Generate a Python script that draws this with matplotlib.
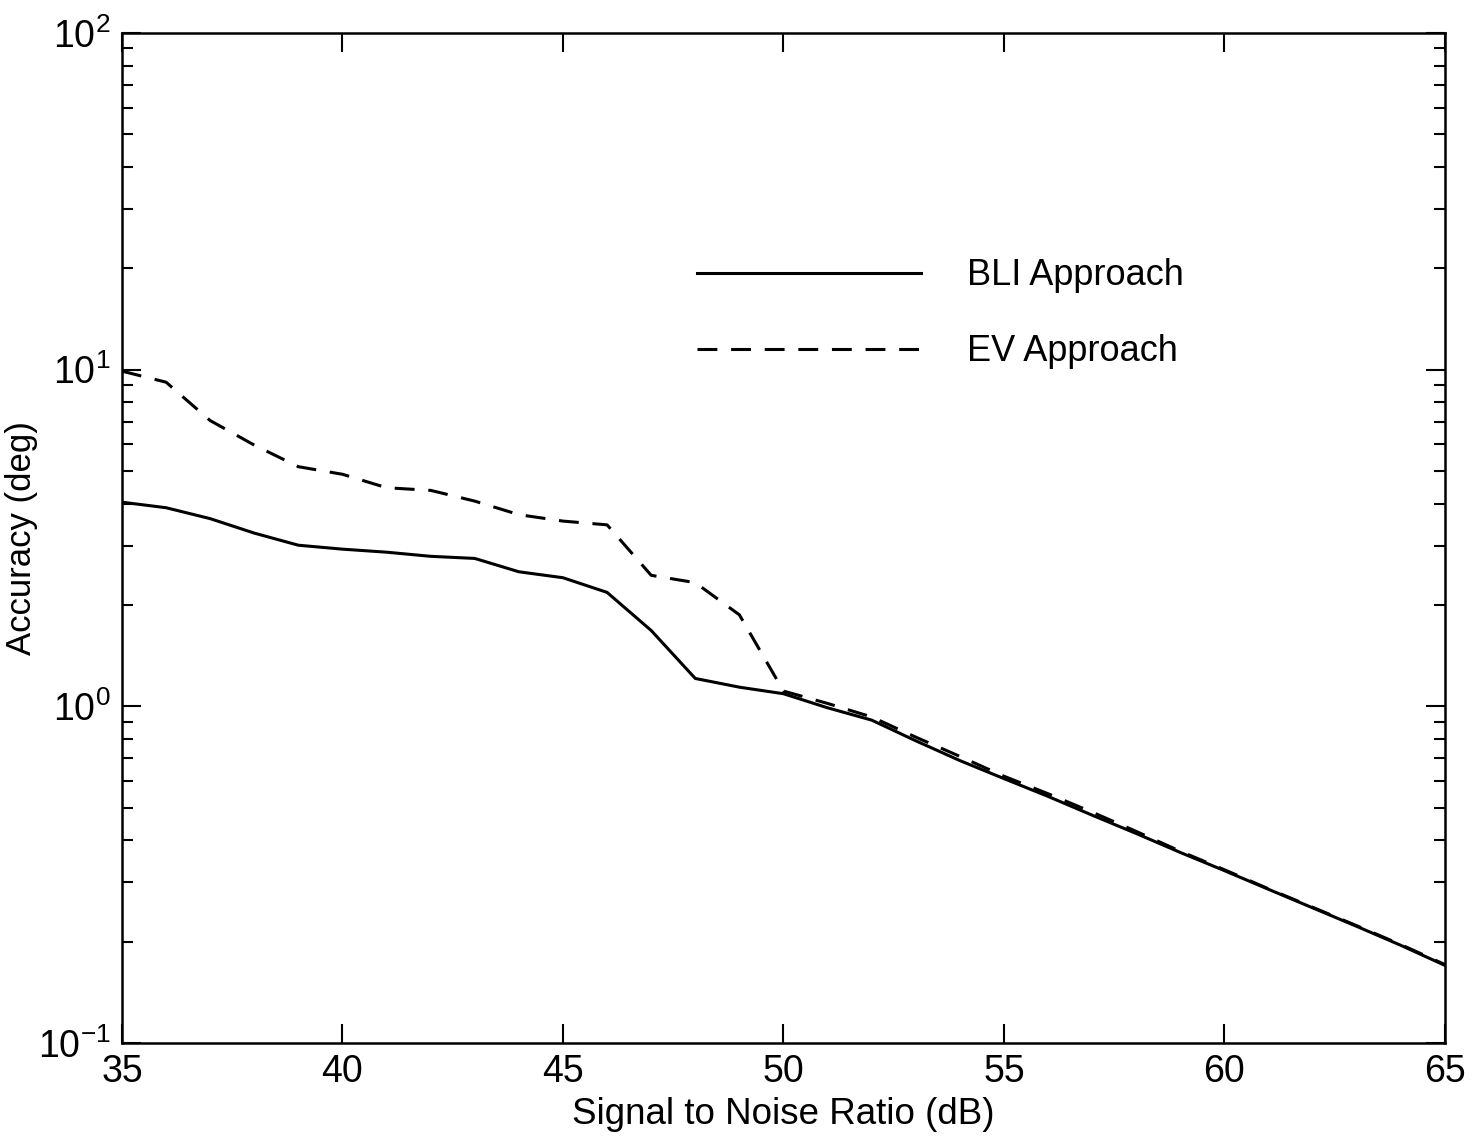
from matplotlib import pyplot as plt
from matplotlib.ticker import LogLocator, NullFormatter

# x = signal to noise ratio (dB)
# y = accuracy (deg), log scale
snr = [35, 36, 37, 38, 39, 40, 41, 42, 43, 44, 45, 46, 47, 48, 49, 50,
       51, 52, 53, 54, 55, 56, 57, 58, 59, 60, 61, 62, 63, 64, 65]

bliAccuracy = [4.04, 3.89, 3.61, 3.27, 3.01, 2.93, 2.87, 2.79, 2.75, 2.51, 2.41, 2.18,
               1.68, 1.21, 1.14, 1.09, 0.99, 0.91, 0.79, 0.69, 0.61, 0.54, 0.475, 0.419,
               0.368, 0.325, 0.286, 0.252, 0.222, 0.195, 0.17]

evAccuracy = [9.9, 9.18, 7.06, 5.97, 5.15, 4.89, 4.46, 4.38, 4.07, 3.71, 3.55, 3.46,
              2.45, 2.33, 1.87, 1.11, 1.02, 0.93, 0.81, 0.71, 0.62, 0.55, 0.485, 0.425,
              0.371, 0.327, 0.287, 0.253, 0.223, 0.196, 0.171]

xTicks = [35, 40, 45, 50, 55, 60, 65]


def main():
    plotting()


def plotting():
    plt.rcParams['font.family'] = ['Liberation Sans', 'DejaVu Sans']
    plt.rcParams['axes.unicode_minus'] = False

    fig = plt.figure(figsize=(14.84, 11.39), dpi=100)
    ax = fig.add_axes([0.0822, 0.0843, 0.8915, 0.8867])

    # Begin plotting
    ax.plot(snr, bliAccuracy, color='black', linewidth=2.2, label='BLI Approach')
    ax.plot(snr, evAccuracy, color='black', linewidth=2.2, linestyle=(0, (6.5, 4.5)),
            label='EV Approach')

    ax.set_yscale('log')
    ax.set_xlim(35, 65)
    ax.set_ylim(0.1, 100)
    ax.set_xticks(xTicks)
    ax.yaxis.set_minor_locator(LogLocator(base=10, subs=range(2, 10)))
    ax.yaxis.set_minor_formatter(NullFormatter())

    ax.tick_params(which='both', direction='in', top=True, right=True, width=1.5)
    ax.tick_params(which='major', length=14, labelsize=27, pad=8)
    ax.tick_params(which='minor', length=8)
    for spine in ax.spines.values():
        spine.set_linewidth(1.8)

    ax.set_xlabel('Signal to Noise Ratio (dB)', fontsize=26.5, labelpad=5)
    ax.set_ylabel('Accuracy (deg)', fontsize=25, labelpad=0)

    ax.legend(loc='center left', bbox_to_anchor=(0.435, 0.722), frameon=False,
              fontsize=26, handlelength=6.2, handletextpad=1.25, labelspacing=1.13,
              borderpad=0, borderaxespad=0)

    fig.savefig('out.png', dpi=100)


if __name__ == "__main__":
    main()
